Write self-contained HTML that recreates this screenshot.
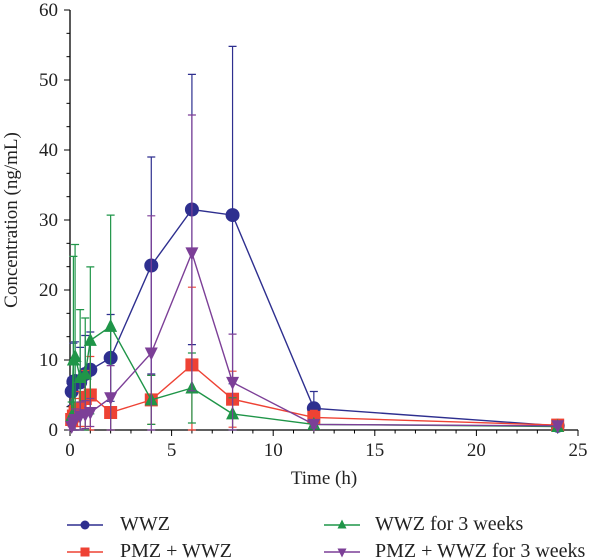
<!DOCTYPE html>
<html><head><meta charset="utf-8"><style>
body{margin:0;background:#fff;}
svg{display:block;font-family:"Liberation Serif",serif;}
</style></head><body>
<svg id="chart" width="605" height="560" viewBox="0 0 605 560" xmlns="http://www.w3.org/2000/svg">
<g id="axes"></g>
<g id="series"></g>
<g id="legend"></g>
</svg>
<script>
const times = [0.083, 0.167, 0.25, 0.5, 0.75, 1, 2, 4, 6, 8, 12, 24];
const wwzMean = [5.5, 6.9, 7.0, 6.8, 8.0, 8.6, 10.3, 23.5, 31.5, 30.7, 3.1, 0.6];
const wwzSd = [2, 5.5, 5.6, 5, 5.5, 5.4, 6.2, 15.5, 19.3, 24.1, 2.4, 0.3];
const pmzMean = [1.5, 2.0, 2.5, 3.0, 4.5, 5.0, 2.5, 4.3, 9.3, 4.4, 1.8, 0.7];
const pmzSd = [1, 1.5, 2, 2.5, 4, 5.5, 2.5, 3.5, 11.1, 4, 1, 0.3];
const grnMean = [2.0, 10.0, 10.5, 7.5, 8.0, 12.8, 14.8, 4.3, 6.0, 2.3, 0.8, 0.5];
const grnSd = [2, 14.8, 16.0, 9.7, 8, 10.5, 15.9, 3.5, 5.0, 2.3, 0.5, 0.2];
const purMean = [0.5, 1.0, 1.5, 2.0, 2.2, 2.5, 4.6, 11.0, 25.3, 6.8, 0.8, 0.6];
const purSd = [0.5, 1, 1.5, 2, 2, 2, 4.6, 19.6, 19.7, 6.9, 0.5, 0.2];
const xTicks = [0, 5, 10, 15, 20, 25];
const yTicks = [0, 10, 20, 30, 40, 50, 60];
const legendLabels = ["WWZ", "PMZ + WWZ", "WWZ for 3 weeks", "PMZ + WWZ for 3 weeks"];

const NS = "http://www.w3.org/2000/svg";
const X0 = 70, X1 = 578, Y0 = 430, Y1 = 10;
function sx(v){ return X0 + (v/25)*(X1-X0); }
function sy(v){ return Y0 - (v/60)*(Y0-Y1); }
function mk(parent, tag, attrs){ const e=document.createElementNS(NS,tag); for(const k in attrs) e.setAttribute(k,attrs[k]); parent.appendChild(e); return e; }

const axes = document.getElementById('axes');
let l = mk(axes,'line',{x1:X0,y1:Y0,x2:X1,y2:Y0,stroke:'#000','stroke-width':1.3});
 
l = mk(axes,'line',{x1:X0,y1:Y0,x2:X0,y2:Y1,stroke:'#000','stroke-width':1.3});
 
for (let i=0;i<=25;i++){ const major = i%5===0;
  mk(axes,'line',{x1:sx(i),y1:Y0,x2:sx(i),y2:Y0+(major?6:3.5),stroke:'#000','stroke-width':1}); }
xTicks.forEach(v=>{ const t=mk(axes,'text',{x:sx(v),y:Y0+26,'text-anchor':'middle','font-size':19,fill:'#222'}); t.textContent=v;
    });
for (let i=0;i<=18;i++){ const v=i*10/3; const major=i%3===0;
  mk(axes,'line',{x1:X0,y1:sy(v),x2:X0-(major?6:3.5),y2:sy(v),stroke:'#000','stroke-width':1}); }
yTicks.forEach(v=>{ const t=mk(axes,'text',{x:X0-12,y:sy(v)+6,'text-anchor':'end','font-size':19,fill:'#222'}); t.textContent=v;
    });
let t = mk(axes,'text',{x:(X0+X1)/2,y:484,'text-anchor':'middle','font-size':19,fill:'#222'}); t.textContent='Time (h)';
 
t = mk(axes,'text',{x:0,y:0,'text-anchor':'middle','font-size':19,fill:'#222',transform:'translate(17,220) rotate(-90)'}); t.textContent='Concentration (ng/mL)';
 

function marker(g, shape, x, y, c, s){
  let e;
  if (shape==='circle') e=mk(g,'circle',{cx:x,cy:y,r:s,fill:c});
  else if (shape==='square') e=mk(g,'rect',{x:x-s,y:y-s,width:2*s,height:2*s,fill:c});
  else if (shape==='tri') e=mk(g,'polygon',{points:`${x},${y-s-1} ${x-s},${y+s-1} ${x+s},${y+s-1}`,fill:c});
  else e=mk(g,'polygon',{points:`${x},${y+s+1} ${x-s},${y-s+1} ${x+s},${y-s+1}`,fill:c});
  return e;
}
const seriesDefs = [
  {name:'wwz', mean:wwzMean, sd:wwzSd, color:'#2e2f8f', shape:'circle', size:7},
  {name:'pmz-wwz', mean:pmzMean, sd:pmzSd, color:'#ee4234', shape:'square', size:6.5},
  {name:'wwz-3-weeks', mean:grnMean, sd:grnSd, color:'#1f9548', shape:'tri', size:6.5},
  {name:'pmz-wwz-3-weeks', mean:purMean, sd:purSd, color:'#7c3f97', shape:'inv', size:6.5}
];
const sg = document.getElementById('series');
seriesDefs.forEach(d=>{
  const g = mk(sg,'g',{});
   
  times.forEach((tt,i)=>{
    const x=sx(tt), hi=sy(d.mean[i]+d.sd[i]), lo=sy(Math.max(0,d.mean[i]-d.sd[i]));
    const eb = mk(g,'path',{d:`M${x},${lo}V${hi}M${x-4},${hi}H${x+4}M${x-4},${lo}H${x+4}`,stroke:d.color,'stroke-width':1.2,fill:'none'});
     
  });
  const line = mk(g,'polyline',{points:times.map((tt,i)=>sx(tt)+','+sy(d.mean[i])).join(' '),fill:'none',stroke:d.color,'stroke-width':1.4});
   
  times.forEach((tt,i)=>{
    const m = marker(g,d.shape,sx(tt),sy(d.mean[i]),d.color,d.size);
     
  });
});

const lg = document.getElementById('legend');
const lpos = [[67,530,120],[67,557,120],[324,530,375],[324,557,375]];
seriesDefs.forEach((d,i)=>{
  const g = mk(lg,'g',{});
   
  const [x,y,tx0]=lpos[i];
  mk(g,'line',{x1:x,y1:y-5,x2:x+36,y2:y-5,stroke:d.color,'stroke-width':1.4});
  marker(g,d.shape,x+18,y-5,d.color,4.5);
  const tx = mk(g,'text',{x:tx0,y:y,'font-size':20,fill:'#222'}); tx.textContent=legendLabels[i];
});
</script>
</body></html>
